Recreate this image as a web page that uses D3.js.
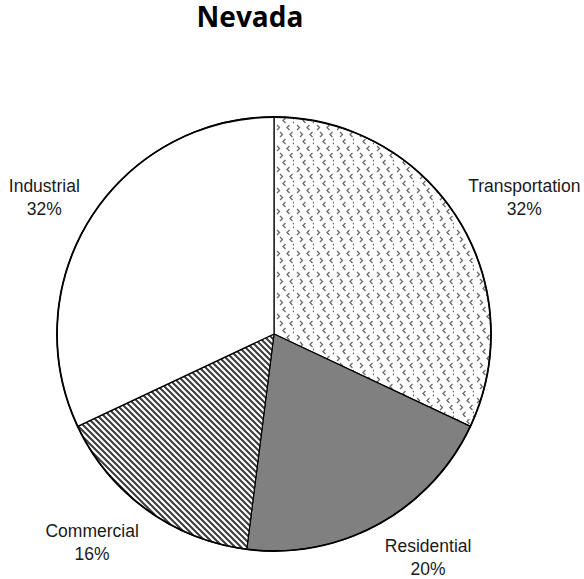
<!DOCTYPE html>
<html>
<head>
<meta charset="utf-8">
<script src="https://cdn.jsdelivr.net/npm/d3@7"></script>
<style>
  html, body { margin: 0; padding: 0; background: #fff; }
  svg { display: block; }
  .title { font-family: "Open Sans", "DejaVu Sans", sans-serif; font-weight: 700; font-size: 28px; fill: #000; }
  .label { font-family: "Liberation Sans", Arial, sans-serif; font-size: 17.5px; fill: #1a1a1a; }
</style>
</head>
<body>
<div id="chart"></div>
<script>
// data
const title = "Nevada";
const sectors = ["Transportation", "Residential", "Commercial", "Industrial"];
const shares = [32, 20, 16, 32];
const fills = ["url(#chevrons)", "#808080", "url(#stripes)", "#ffffff"];

const width = 584, height = 579;
const cx = 274, cy = 334, radius = 217;

const svg = d3.select("#chart").append("svg")
  .attr("width", width)
  .attr("height", height);

const defs = svg.append("defs");

// sparse little gray chevrons for transportation
const chev = defs.append("pattern")
  .attr("id", "chevrons")
  .attr("patternUnits", "userSpaceOnUse")
  .attr("width", 20)
  .attr("height", 21);
chev.append("rect").attr("width", 20).attr("height", 21).attr("fill", "#fff");
const chevMarks = [
  { x: 3, y: 1, dir: 1 },
  { x: 16, y: 8, dir: -1 },
  { x: 9, y: 15, dir: -1 },
  { x: 13, y: 1, dir: -1 },
  { x: 6, y: 8, dir: 1 },
  { x: 19, y: 15, dir: 1 }
];
chev.selectAll("path").data(chevMarks).join("path")
  .attr("d", d => d.dir > 0
    ? `M${d.x},${d.y} L${d.x + 2.5},${d.y + 2.5} L${d.x},${d.y + 5}`
    : `M${d.x + 2.5},${d.y} L${d.x},${d.y + 2.5} L${d.x + 2.5},${d.y + 5}`)
  .attr("fill", "none")
  .attr("stroke", "#6a6a6a")
  .attr("stroke-width", 1.3);

// dense downward diagonal stripes for commercial
const stripes = defs.append("pattern")
  .attr("id", "stripes")
  .attr("patternUnits", "userSpaceOnUse")
  .attr("width", 6)
  .attr("height", 6);
stripes.append("rect").attr("width", 6).attr("height", 6).attr("fill", "#fff");
stripes.append("path")
  .attr("d", "M-1,-1 L7,7 M-4,2 L2,8 M4,-2 L8,2")
  .attr("stroke", "#3a3a3a")
  .attr("stroke-width", 2);

svg.append("text")
  .attr("class", "title")
  .attr("x", 250)
  .attr("y", 27)
  .attr("text-anchor", "middle")
  .text(title);

const pie = d3.pie().sort(null).value(d => d)(shares);
const arc = d3.arc().innerRadius(0).outerRadius(radius);

const g = svg.append("g").attr("transform", `translate(${cx},${cy})`);

g.selectAll("path.slice").data(pie).join("path")
  .attr("class", "slice")
  .attr("d", arc)
  .attr("fill", (d, i) => fills[i])
  .attr("stroke", "#000")
  .attr("stroke-width", 1.2)
  .attr("stroke-linejoin", "round");

// heavier outline around the whole pie
g.append("circle")
  .attr("r", radius)
  .attr("fill", "none")
  .attr("stroke", "#000")
  .attr("stroke-width", 1.8);

// labels: the box corner nearest the pie sits on a ring just outside the rim
const anchorArc = d3.arc().innerRadius(radius + 13).outerRadius(radius + 13);
const lineGap = 23;
const capHeight = 12.5;
const labelDrop = 4;

const labels = g.selectAll("g.lab").data(pie).join("g").attr("class", "lab");
labels.append("text")
  .attr("class", "label")
  .attr("text-anchor", "middle")
  .attr("y", 0)
  .text((d, i) => sectors[i]);
labels.append("text")
  .attr("class", "label")
  .attr("text-anchor", "middle")
  .attr("y", lineGap)
  .text(d => d.value + "%");

labels.each(function(d) {
  const box = this.getBBox();
  const w = box.width;
  // tight block: cap top of first line to baseline of second
  const h = lineGap + capHeight;
  const midY = (lineGap - capHeight) / 2;
  const a = (d.startAngle + d.endAngle) / 2;
  const [px, py] = anchorArc.centroid(d);
  const bx = px + Math.sign(Math.sin(a)) * w / 2;
  const by = py - Math.sign(Math.cos(a)) * h / 2;
  const tx = bx - (box.x + w / 2);
  const ty = by - midY + labelDrop;
  d3.select(this).attr("transform", `translate(${tx},${ty})`);
});
</script>
</body>
</html>
